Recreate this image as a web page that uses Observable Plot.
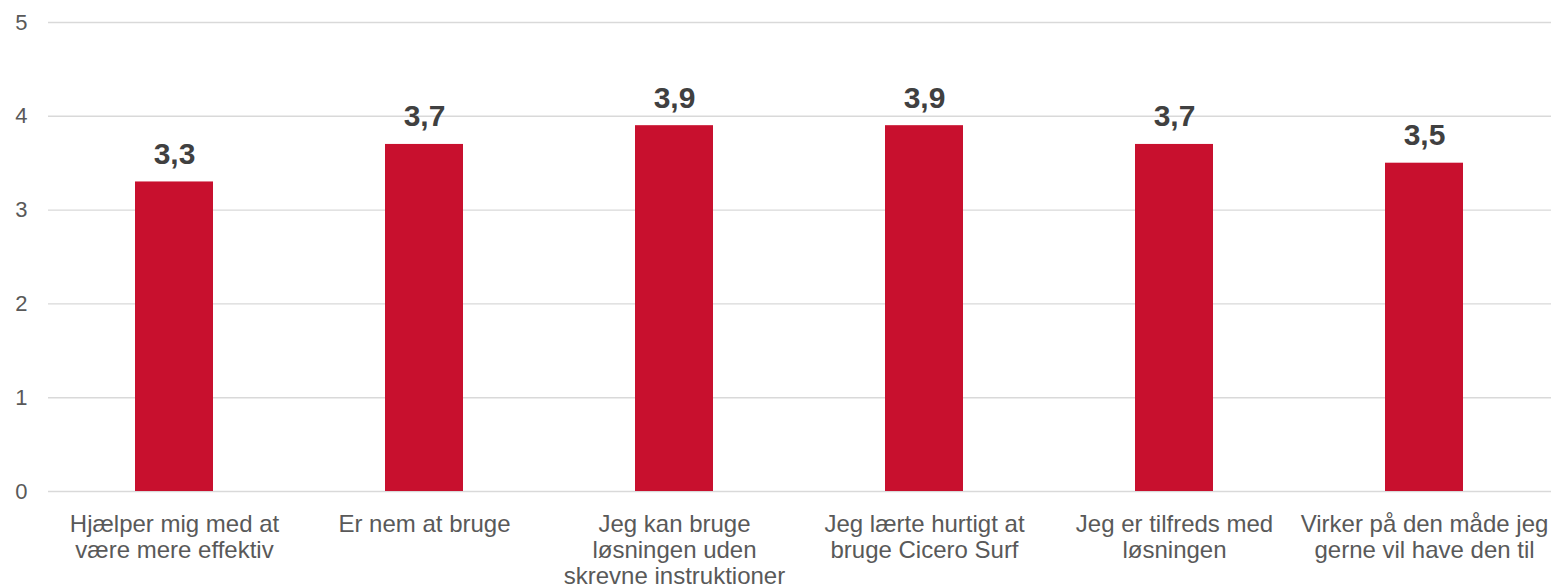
<!DOCTYPE html>
<html>
<head>
<meta charset="utf-8">
<script src="https://cdn.jsdelivr.net/npm/d3@7"></script>
<script src="https://cdn.jsdelivr.net/npm/@observablehq/plot@0.6"></script>
<style>
  html, body { margin: 0; padding: 0; background: #fff; }
  #chart svg { display: block; }
</style>
</head>
<body>
<div id="chart"></div>
<script>
const categories = [
  "Hjælper mig med at være mere effektiv",
  "Er nem at bruge",
  "Jeg kan bruge løsningen uden skrevne instruktioner",
  "Jeg lærte hurtigt at bruge Cicero Surf",
  "Jeg er tilfreds med løsningen",
  "Virker på den måde jeg gerne vil have den til"
];
const categoryLines = [
  ["Hjælper mig med at", "være mere effektiv"],
  ["Er nem at bruge"],
  ["Jeg kan bruge", "løsningen uden", "skrevne instruktioner"],
  ["Jeg lærte hurtigt at", "bruge Cicero Surf"],
  ["Jeg er tilfreds med", "løsningen"],
  ["Virker på den måde jeg", "gerne vil have den til"]
];
const values = [3.3, 3.7, 3.9, 3.9, 3.7, 3.5];
const yTicks = [0, 1, 2, 3, 4, 5];

const data = categories.map((c, i) => ({category: c, value: values[i]}));
const lineMap = new Map(categories.map((c, i) => [c, categoryLines[i].join("\n")]));
const fmt = v => v.toFixed(1).replace(".", ",");

const font = "'Liberation Sans', Arial, Helvetica, sans-serif";

const chart = Plot.plot({
  width: 1553,
  height: 586,
  marginTop: 22,
  marginBottom: 95,
  marginLeft: 48,
  marginRight: 2,
  style: {fontFamily: font, background: "#fff"},
  x: {domain: categories, paddingInner: 0.687, paddingOuter: 0.3435},
  y: {domain: [0, 5], ticks: yTicks},
  marks: [
    Plot.ruleY(yTicks, {stroke: "#d9d9d9", strokeWidth: 1.4}),
    Plot.barY(data, {x: "category", y: "value", fill: "#c8102e"}),
    Plot.text(data, {
      x: "category", y: "value", text: d => fmt(d.value),
      lineAnchor: "bottom", dy: -18,
      fontSize: 30, fontWeight: "bold", fill: "#404040", fontFamily: font
    }),
    Plot.axisY(yTicks, {
      tickSize: 0, tickPadding: 21, fontSize: 22, fill: "#595959",
      fontFamily: font, label: null, tickFormat: d => String(d)
    }),
    Plot.axisX({
      tickSize: 0, tickPadding: 22, fontSize: 24, fill: "#595959",
      fontFamily: font, label: null, lineHeight: 1.08,
      tickFormat: c => lineMap.get(c)
    })
  ]
});
document.getElementById("chart").appendChild(chart);
</script>
</body>
</html>
